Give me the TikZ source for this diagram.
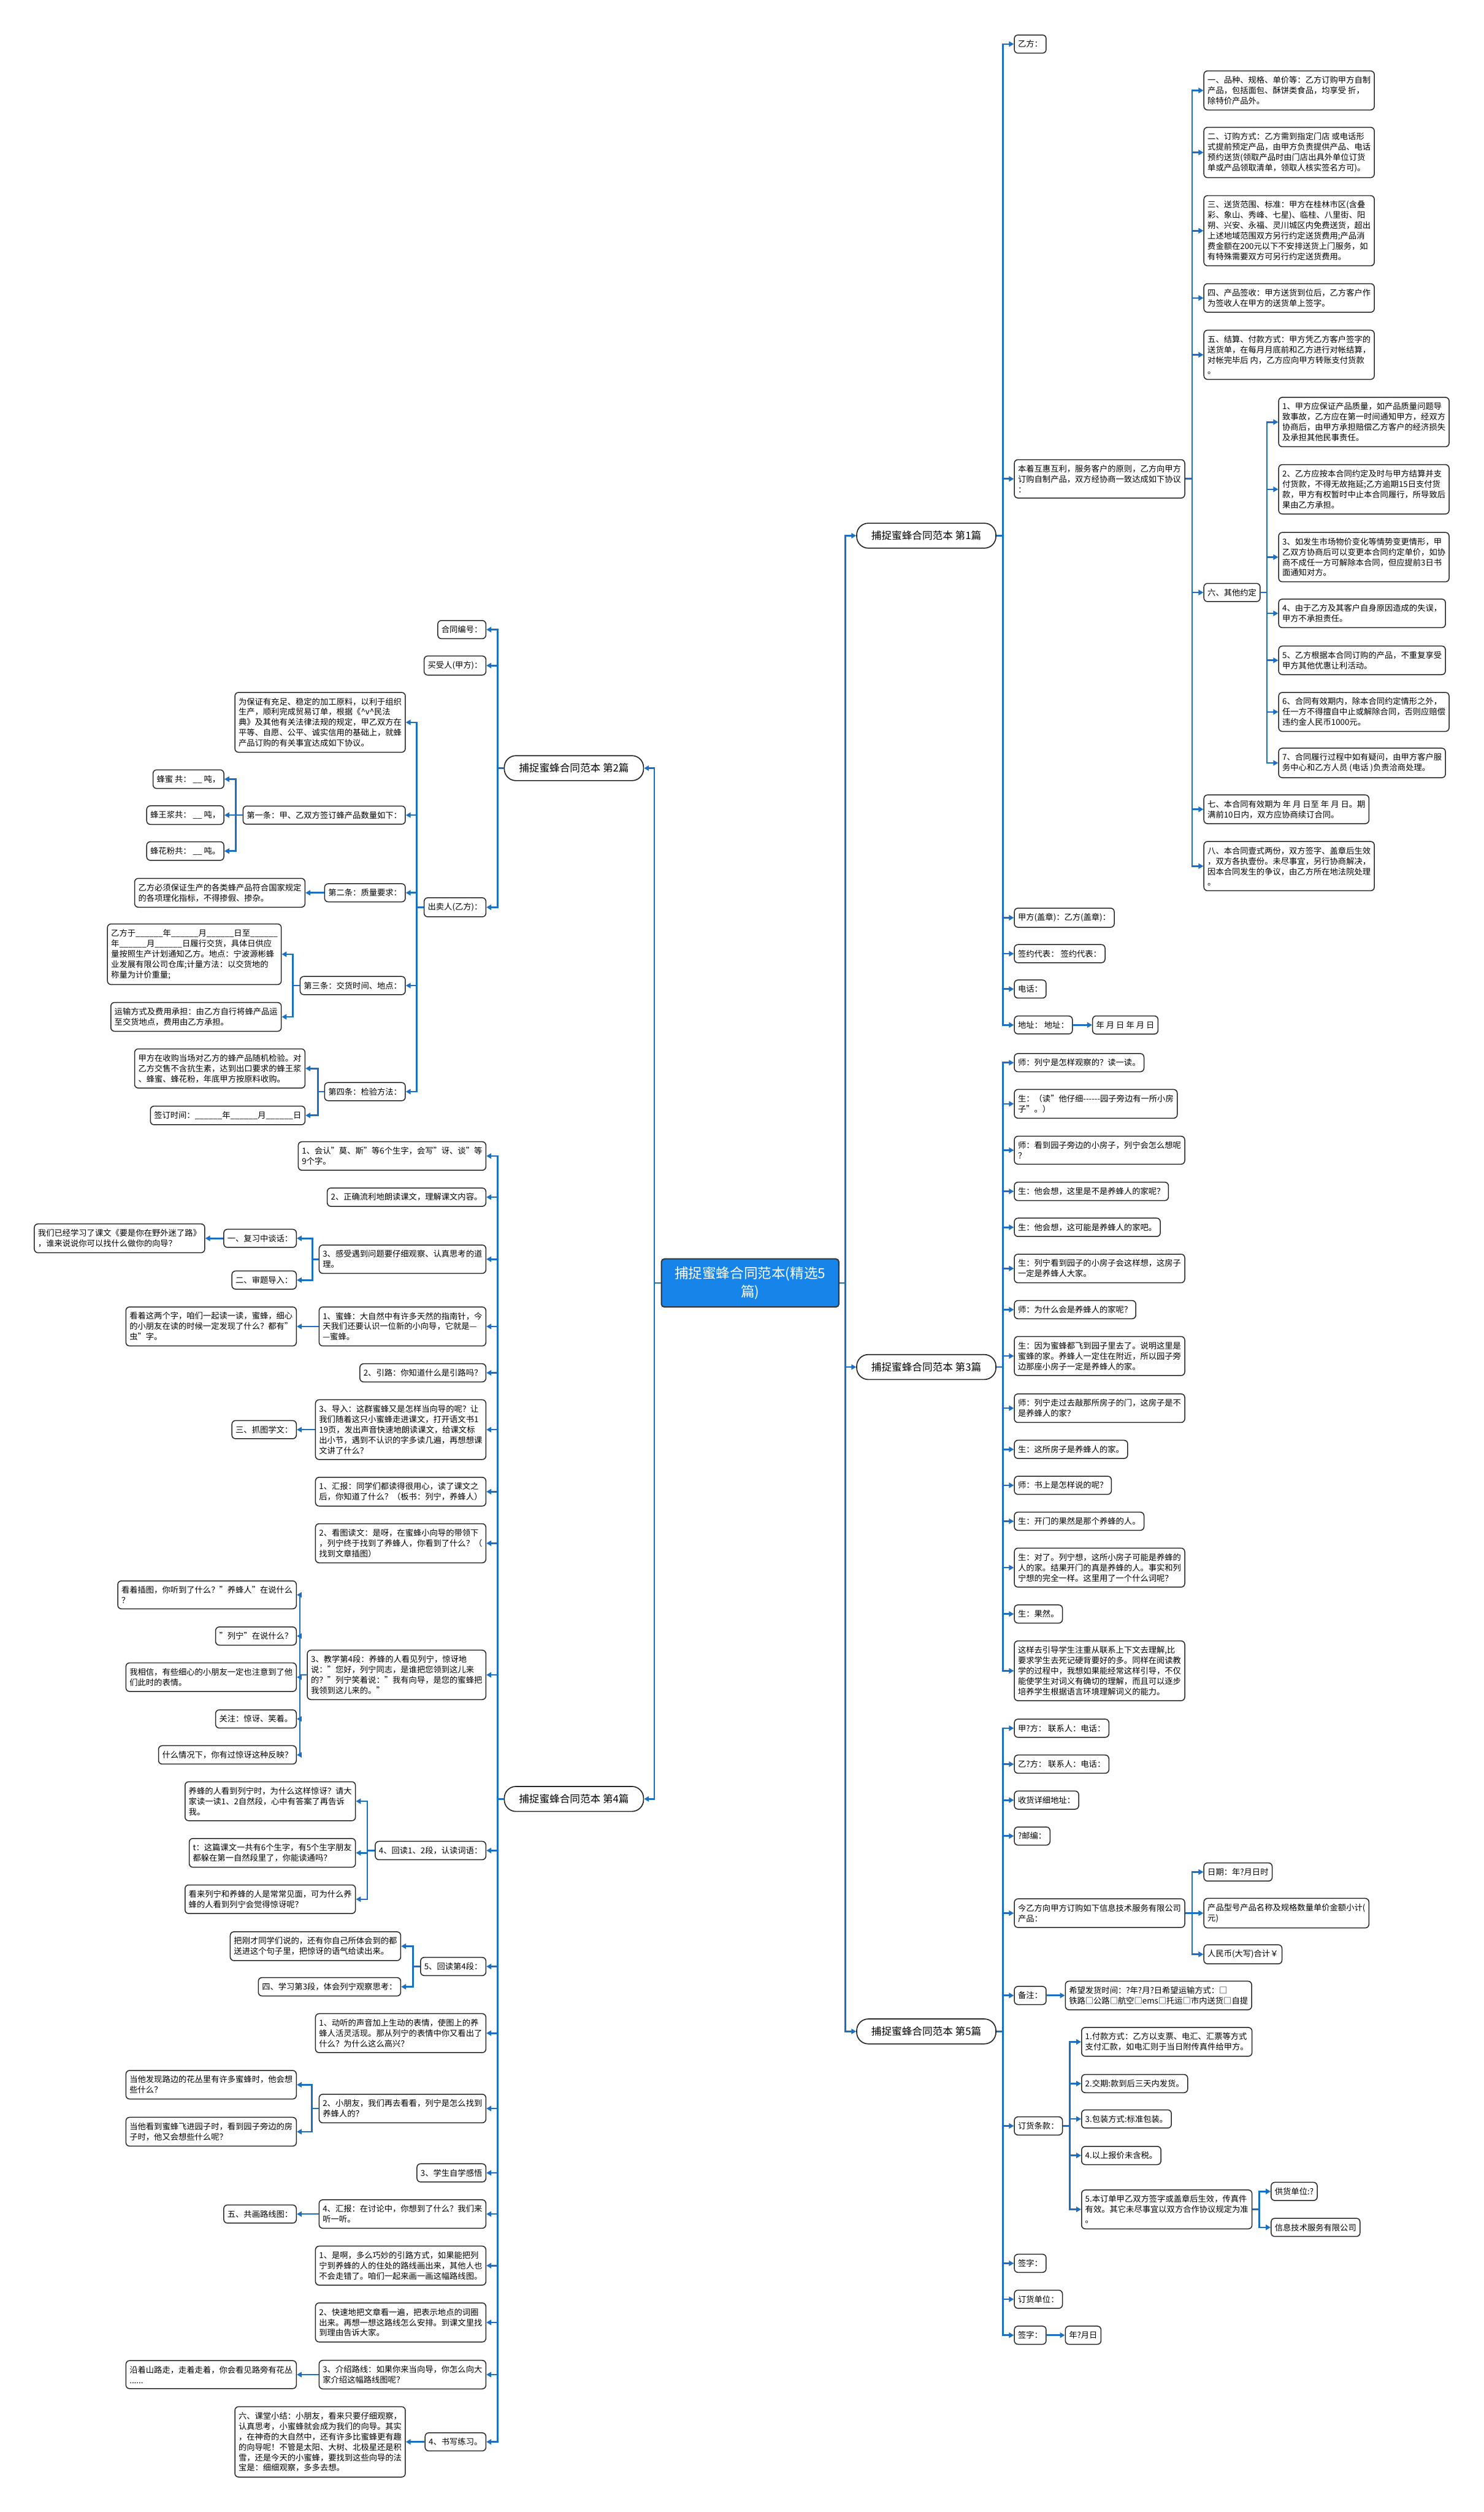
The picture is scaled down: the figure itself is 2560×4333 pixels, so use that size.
\documentclass[tikz,border=0pt]{standalone}
\usepackage{fontspec}
\setmainfont{Noto Sans CJK SC}
\usetikzlibrary{arrows.meta}
\definecolor{linkblue}{RGB}{28,112,196}
\definecolor{rootblue}{RGB}{22,132,232}
\newcommand{\tiankong}{\_\_\_\_\_\_}
\begin{document}
\begin{tikzpicture}[x=0.01cm, y=-0.01cm, >={Triangle[length=2.4pt,width=2.6pt]},
  every node/.style={font=\fontsize{4.0}{5.1}\selectfont},
  box/.style={draw=black!85, line width=0.45pt, rounded corners=1.8pt, fill=white, align=left, inner xsep=1.8pt, inner ysep=2.6pt},
  pian/.style={draw=black!85, line width=0.5pt, rounded corners=0.2cm, fill=white, minimum width=2.4cm, minimum height=0.43cm, inner sep=0pt, font=\fontsize{5}{6}\selectfont},
  zhuti/.style={draw=black!80, line width=0.6pt, rounded corners=1.5pt, fill=rootblue, text=white, align=center, minimum width=3.06cm, minimum height=0.83cm, font=\fontsize{6.8}{9}\selectfont},
  link/.style={->, draw=linkblue, line width=0.8pt}]
  \fill[white] (0,0) rectangle (2560,4333);
  \useasboundingbox (0,0) rectangle (2560,4333);

  % Centre
  \node[zhuti] (root) at (1294,2213) {捕捉蜜蜂合同范本(精选5\\篇)};

  % Piece 1
  \node[pian, anchor=west] (r1) at (1477,924) {捕捉蜜蜂合同范本 第1篇};
  \node[box, anchor=west] (r1a) at (1749,76) {乙方：};
  \node[box, anchor=west] (r1b) at (1749,826) {本着互惠互利，服务客户的原则，乙方向甲方\\订购自制产品，双方经协商一致达成如下协议\\：};
  \node[box, anchor=west] (r1b1) at (2076,156) {一、品种、规格、单价等：乙方订购甲方自制\\产品，包括面包、酥饼类食品，均享受 折，\\除特价产品外。};
  \node[box, anchor=west] (r1b2) at (2076,263) {二、订购方式：乙方需到指定门店 或电话形\\式提前预定产品，由甲方负责提供产品、电话\\预约送货(领取产品时由门店出具外单位订货\\单或产品领取清单，领取人核实签名方可)。};
  \node[box, anchor=west] (r1b3) at (2076,398) {三、送货范围、标准：甲方在桂林市区(含叠\\彩、象山、秀峰、七星)、临桂、八里街、阳\\朔、兴安、永福、灵川城区内免费送货，超出\\上述地域范围双方另行约定送货费用;产品消\\费金额在200元以下不安排送货上门服务，如\\有特殊需要双方可另行约定送货费用。};
  \node[box, anchor=west] (r1b4) at (2076,514) {四、产品签收：甲方送货到位后，乙方客户作\\为签收人在甲方的送货单上签字。};
  \node[box, anchor=west] (r1b5) at (2076,612) {五、结算、付款方式：甲方凭乙方客户签字的\\送货单，在每月月底前和乙方进行对帐结算，\\对帐完毕后 内，乙方应向甲方转账支付货款\\。};
  \node[box, anchor=west] (r1b6) at (2076,1022) {六、其他约定};
  \node[box, anchor=west] (r1b6a) at (2205,728) {1、甲方应保证产品质量，如产品质量问题导\\致事故，乙方应在第一时间通知甲方，经双方\\协商后，由甲方承担赔偿乙方客户的经济损失\\及承担其他民事责任。};
  \node[box, anchor=west] (r1b6b) at (2205,844) {2、乙方应按本合同约定及时与甲方结算并支\\付货款，不得无故拖延;乙方逾期15日支付货\\款，甲方有权暂时中止本合同履行，所导致后\\果由乙方承担。};
  \node[box, anchor=west] (r1b6c) at (2205,961) {3、如发生市场物价变化等情势变更情形，甲\\乙双方协商后可以变更本合同约定单价，如协\\商不成任一方可解除本合同，但应提前3日书\\面通知对方。};
  \node[box, anchor=west] (r1b6d) at (2205,1058) {4、由于乙方及其客户自身原因造成的失误，\\甲方不承担责任。};
  \node[box, anchor=west] (r1b6e) at (2205,1139) {5、乙方根据本合同订购的产品，不重复享受\\甲方其他优惠让利活动。};
  \node[box, anchor=west] (r1b6f) at (2205,1228) {6、合同有效期内，除本合同约定情形之外，\\任一方不得擅自中止或解除合同，否则应赔偿\\违约金人民币1000元。};
  \node[box, anchor=west] (r1b6g) at (2205,1316) {7、合同履行过程中如有疑问，由甲方客户服\\务中心和乙方人员 (电话 )负责洽商处理。};
  \node[box, anchor=west] (r1b7) at (2076,1396) {七、本合同有效期为 年 月 日至 年 月 日。期\\满前10日内，双方应协商续订合同。};
  \node[box, anchor=west] (r1b8) at (2076,1494) {八、本合同壹式两份，双方签字、盖章后生效\\，双方各执壹份。未尽事宜，另行协商解决，\\因本合同发生的争议，由乙方所在地法院处理\\。};
  \node[box, anchor=west] (r1c) at (1749,1583) {甲方(盖章)：乙方(盖章)：};
  \node[box, anchor=west] (r1d) at (1749,1645) {签约代表： 签约代表：};
  \node[box, anchor=west] (r1e) at (1749,1706) {电话：};
  \node[box, anchor=west] (r1f) at (1749,1768) {地址： 地址：};
  \node[box, anchor=west] (r1g) at (1884,1768) {年 月 日 年 月 日};

  \draw[link] (root.east) -- ++(10,0) |- (r1.west);
  \draw[link] (r1.east) -- ++(11,0) |- (r1a.west);
  \draw[link] (r1.east) -- ++(11,0) |- (r1b.west);
  \draw[link] (r1.east) -- ++(11,0) |- (r1c.west);
  \draw[link] (r1.east) -- ++(11,0) |- (r1d.west);
  \draw[link] (r1.east) -- ++(11,0) |- (r1e.west);
  \draw[link] (r1.east) -- ++(11,0) |- (r1f.west);
  \draw[link] (r1f.east) -- (r1g.west);
  \draw[link] (r1b.east) -- ++(12,0) |- (r1b1.west);
  \draw[link] (r1b.east) -- ++(12,0) |- (r1b2.west);
  \draw[link] (r1b.east) -- ++(12,0) |- (r1b3.west);
  \draw[link] (r1b.east) -- ++(12,0) |- (r1b4.west);
  \draw[link] (r1b.east) -- ++(12,0) |- (r1b5.west);
  \draw[link] (r1b.east) -- ++(12,0) |- (r1b6.west);
  \draw[link] (r1b.east) -- ++(12,0) |- (r1b7.west);
  \draw[link] (r1b.east) -- ++(12,0) |- (r1b8.west);
  \draw[link] (r1b6.east) -- ++(11,0) |- (r1b6a.west);
  \draw[link] (r1b6.east) -- ++(11,0) |- (r1b6b.west);
  \draw[link] (r1b6.east) -- ++(11,0) |- (r1b6c.west);
  \draw[link] (r1b6.east) -- ++(11,0) |- (r1b6d.west);
  \draw[link] (r1b6.east) -- ++(11,0) |- (r1b6e.west);
  \draw[link] (r1b6.east) -- ++(11,0) |- (r1b6f.west);
  \draw[link] (r1b6.east) -- ++(11,0) |- (r1b6g.west);

  % Piece 3
  \node[pian, anchor=west] (r3) at (1477,2358) {捕捉蜜蜂合同范本 第3篇};
  \node[box, anchor=west] (r3a) at (1749,1833) {师：列宁是怎样观察的？读一读。};
  \node[box, anchor=west] (r3b) at (1749,1904) {生：（读"他仔细{-}{-}{-}{-}{-}{-}园子旁边有一所小房\\子"。）};
  \node[box, anchor=west] (r3c) at (1749,1984) {师：看到园子旁边的小房子，列宁会怎么想呢\\？};
  \node[box, anchor=west] (r3d) at (1749,2055) {生：他会想，这里是不是养蜂人的家呢？};
  \node[box, anchor=west] (r3e) at (1749,2117) {生：他会想，这可能是养蜂人的家吧。};
  \node[box, anchor=west] (r3f) at (1749,2188) {生：列宁看到园子的小房子会这样想，这房子\\一定是养蜂人大家。};
  \node[box, anchor=west] (r3g) at (1749,2259) {师：为什么会是养蜂人的家呢？};
  \node[box, anchor=west] (r3h) at (1749,2339) {生：因为蜜蜂都飞到园子里去了。说明这里是\\蜜蜂的家。养蜂人一定住在附近，所以园子旁\\边那座小房子一定是养蜂人的家。};
  \node[box, anchor=west] (r3i) at (1749,2429) {师：列宁走过去敲那所房子的门，这房子是不\\是养蜂人的家？};
  \node[box, anchor=west] (r3j) at (1749,2500) {生：这所房子是养蜂人的家。};
  \node[box, anchor=west] (r3k) at (1749,2562) {师：书上是怎样说的呢？};
  \node[box, anchor=west] (r3l) at (1749,2624) {生：开门的果然是那个养蜂的人。};
  \node[box, anchor=west] (r3m) at (1749,2704) {生：对了。列宁想，这所小房子可能是养蜂的\\人的家。结果开门的真是养蜂的人。事实和列\\宁想的完全一样。这里用了一个什么词呢？};
  \node[box, anchor=west] (r3n) at (1749,2784) {生：果然。};
  \node[box, anchor=west] (r3o) at (1749,2882) {这样去引导学生注重从联系上下文去理解,比\\要求学生去死记硬背要好的多。同样在阅读教\\学的过程中，我想如果能经常这样引导，不仅\\能使学生对词义有确切的理解，而且可以逐步\\培养学生根据语言环境理解词义的能力。};

  \draw[link] (root.east) -- ++(10,0) |- (r3.west);
  \draw[link] (r3.east) -- ++(11,0) |- (r3a.west);
  \draw[link] (r3.east) -- ++(11,0) |- (r3b.west);
  \draw[link] (r3.east) -- ++(11,0) |- (r3c.west);
  \draw[link] (r3.east) -- ++(11,0) |- (r3d.west);
  \draw[link] (r3.east) -- ++(11,0) |- (r3e.west);
  \draw[link] (r3.east) -- ++(11,0) |- (r3f.west);
  \draw[link] (r3.east) -- ++(11,0) |- (r3g.west);
  \draw[link] (r3.east) -- ++(11,0) |- (r3h.west);
  \draw[link] (r3.east) -- ++(11,0) |- (r3i.west);
  \draw[link] (r3.east) -- ++(11,0) |- (r3j.west);
  \draw[link] (r3.east) -- ++(11,0) |- (r3k.west);
  \draw[link] (r3.east) -- ++(11,0) |- (r3l.west);
  \draw[link] (r3.east) -- ++(11,0) |- (r3m.west);
  \draw[link] (r3.east) -- ++(11,0) |- (r3n.west);
  \draw[link] (r3.east) -- ++(11,0) |- (r3o.west);

  % Piece 5
  \node[pian, anchor=west] (r5) at (1477,3504) {捕捉蜜蜂合同范本 第5篇};
  \node[box, anchor=west] (r5a) at (1749,2981) {甲?方： 联系人：电话：};
  \node[box, anchor=west] (r5b) at (1749,3043) {乙?方： 联系人：电话：};
  \node[box, anchor=west] (r5c) at (1749,3105) {收货详细地址：};
  \node[box, anchor=west] (r5d) at (1749,3167) {?邮编：};
  \node[box, anchor=west] (r5e) at (1749,3300) {今乙方向甲方订购如下信息技术服务有限公司\\产品：};
  \node[box, anchor=west] (r5e1) at (2076,3229) {日期：年?月日时};
  \node[box, anchor=west] (r5e2) at (2076,3300) {产品型号产品名称及规格数量单价金额小计(\\元)};
  \node[box, anchor=west] (r5e3) at (2076,3371) {人民币(大写)合计￥};
  \node[box, anchor=west] (r5f) at (1749,3442) {备注：};
  \node[box, anchor=west] (r5f1) at (1837,3442) {希望发货时间：?年?月?日希望运输方式：□\\铁路□公路□航空□ems□托运□市内送货□自提};
  \node[box, anchor=west] (r5g) at (1749,3667) {订货条款：};
  \node[box, anchor=west] (r5g1) at (1865,3522) {1.付款方式：乙方以支票、电汇、汇票等方式\\支付汇款，如电汇则于当日附传真件给甲方。};
  \node[box, anchor=west] (r5g2) at (1865,3594) {2.交期:款到后三天内发货。};
  \node[box, anchor=west] (r5g3) at (1865,3655) {3.包装方式:标准包装。};
  \node[box, anchor=west] (r5g4) at (1865,3718) {4.以上报价未含税。};
  \node[box, anchor=west] (r5g5) at (1865,3811) {5.本订单甲乙双方签字或盖章后生效，传真件\\有效。其它未尽事宜以双方合作协议规定为准\\。};
  \node[box, anchor=west] (r5g5a) at (2192,3780) {供货单位:?};
  \node[box, anchor=west] (r5g5b) at (2192,3842) {信息技术服务有限公司};
  \node[box, anchor=west] (r5h) at (1749,3904) {签字：};
  \node[box, anchor=west] (r5i) at (1749,3966) {订货单位：};
  \node[box, anchor=west] (r5j) at (1749,4028) {签字：};
  \node[box, anchor=west] (r5j1) at (1837,4028) {年?月日};

  \draw[link] (root.east) -- ++(10,0) |- (r5.west);
  \draw[link] (r5.east) -- ++(11,0) |- (r5a.west);
  \draw[link] (r5.east) -- ++(11,0) |- (r5b.west);
  \draw[link] (r5.east) -- ++(11,0) |- (r5c.west);
  \draw[link] (r5.east) -- ++(11,0) |- (r5d.west);
  \draw[link] (r5.east) -- ++(11,0) |- (r5e.west);
  \draw[link] (r5.east) -- ++(11,0) |- (r5f.west);
  \draw[link] (r5.east) -- ++(11,0) |- (r5g.west);
  \draw[link] (r5.east) -- ++(11,0) |- (r5h.west);
  \draw[link] (r5.east) -- ++(11,0) |- (r5i.west);
  \draw[link] (r5.east) -- ++(11,0) |- (r5j.west);
  \draw[link] (r5e.east) -- ++(12,0) |- (r5e1.west);
  \draw[link] (r5e.east) -- ++(12,0) |- (r5e2.west);
  \draw[link] (r5e.east) -- ++(12,0) |- (r5e3.west);
  \draw[link] (r5f.east) -- (r5f1.west);
  \draw[link] (r5g.east) -- ++(12,0) |- (r5g1.west);
  \draw[link] (r5g.east) -- ++(12,0) |- (r5g2.west);
  \draw[link] (r5g.east) -- ++(12,0) |- (r5g3.west);
  \draw[link] (r5g.east) -- ++(12,0) |- (r5g4.west);
  \draw[link] (r5g.east) -- ++(12,0) |- (r5g5.west);
  \draw[link] (r5g5.east) -- ++(12,0) |- (r5g5a.west);
  \draw[link] (r5g5.east) -- ++(12,0) |- (r5g5b.west);
  \draw[link] (r5j.east) -- (r5j1.west);

  % Piece 2
  \node[pian, anchor=east] (l2) at (1111,1325) {捕捉蜜蜂合同范本 第2篇};
  \node[box, anchor=east] (l2a) at (839,1086) {合同编号：};
  \node[box, anchor=east] (l2b) at (839,1148) {买受人(甲方)：};
  \node[box, anchor=east] (l2c) at (839,1565) {出卖人(乙方)：};
  \node[box, anchor=east] (l2c1) at (700,1246) {为保证有充足、稳定的加工原料，以利于组织\\生产，顺利完成贸易订单，根据《\textasciicircum v\textasciicircum 民法\\典》及其他有关法律法规的规定，甲乙双方在\\平等、自愿、公平、诚实信用的基础上，就蜂\\产品订购的有关事宜达成如下协议。};
  \node[box, anchor=east] (l2c2) at (700,1406) {第一条：甲、乙双方签订蜂产品数量如下：};
  \node[box, anchor=east] (l2c2a) at (387,1344) {蜂蜜 共： \_\_ 吨，};
  \node[box, anchor=east] (l2c2b) at (387,1406) {蜂王浆共： \_\_ 吨，};
  \node[box, anchor=east] (l2c2c) at (387,1468) {蜂花粉共： \_\_ 吨。};
  \node[box, anchor=east] (l2c3) at (700,1540) {第二条：质量要求：};
  \node[box, anchor=east] (l2c3a) at (527,1540) {乙方必须保证生产的各类蜂产品符合国家规定\\的各项理化指标，不得掺假、掺杂。};
  \node[box, anchor=east] (l2c4) at (700,1700) {第三条：交货时间、地点：};
  \node[box, anchor=east] (l2c4a) at (486,1646) {乙方于\tiankong 年\tiankong 月\tiankong 日至\tiankong\\年\tiankong 月\tiankong 日履行交货，具体日供应\\量按照生产计划通知乙方。地点：宁波源彬蜂\\业发展有限公司仓库;计量方法：以交货地的\\称量为计价重量;};
  \node[box, anchor=east] (l2c4b) at (486,1754) {运输方式及费用承担：由乙方自行将蜂产品运\\至交货地点，费用由乙方承担。};
  \node[box, anchor=east] (l2c5) at (700,1883) {第四条：检验方法：};
  \node[box, anchor=east] (l2c5a) at (527,1843) {甲方在收购当场对乙方的蜂产品随机检验。对\\乙方交售不含抗生素，达到出口要求的蜂王浆\\、蜂蜜、蜂花粉，年底甲方按原料收购。};
  \node[box, anchor=east] (l2c5b) at (527,1924) {签订时间：\tiankong 年\tiankong 月\tiankong 日};

  \draw[link] (root.west) -- ++(-11,0) |- (l2.east);
  \draw[link] (l2.west) -- ++(-11,0) |- (l2a.east);
  \draw[link] (l2.west) -- ++(-11,0) |- (l2b.east);
  \draw[link] (l2.west) -- ++(-11,0) |- (l2c.east);
  \draw[link] (l2c.west) -- ++(-12,0) |- (l2c1.east);
  \draw[link] (l2c.west) -- ++(-12,0) |- (l2c2.east);
  \draw[link] (l2c.west) -- ++(-12,0) |- (l2c3.east);
  \draw[link] (l2c.west) -- ++(-12,0) |- (l2c4.east);
  \draw[link] (l2c.west) -- ++(-12,0) |- (l2c5.east);
  \draw[link] (l2c2.west) -- ++(-12,0) |- (l2c2a.east);
  \draw[link] (l2c2.west) -- ++(-12,0) |- (l2c2b.east);
  \draw[link] (l2c2.west) -- ++(-12,0) |- (l2c2c.east);
  \draw[link] (l2c3.west) -- (l2c3a.east);
  \draw[link] (l2c4.west) -- ++(-12,0) |- (l2c4a.east);
  \draw[link] (l2c4.west) -- ++(-12,0) |- (l2c4b.east);
  \draw[link] (l2c5.west) -- ++(-11,0) |- (l2c5a.east);
  \draw[link] (l2c5.west) -- ++(-11,0) |- (l2c5b.east);

  % Piece 4
  \node[pian, anchor=east] (l4) at (1111,3103) {捕捉蜜蜂合同范本 第4篇};
  \node[box, anchor=east] (l4a) at (839,1994) {1、会认"莫、斯"等6个生字，会写"讶、谈"等\\9个字。};
  \node[box, anchor=east] (l4b) at (839,2065) {2、正确流利地朗读课文，理解课文内容。};
  \node[box, anchor=east] (l4c) at (839,2172) {3、感受遇到问题要仔细观察、认真思考的道\\理。};
  \node[box, anchor=east] (l4c1) at (512,2136) {一、复习中谈话：};
  \node[box, anchor=east] (l4c1a) at (354,2136) {我们已经学习了课文《要是你在野外迷了路》\\，谁来说说你可以找什么做你的向导？};
  \node[box, anchor=east] (l4c2) at (512,2208) {二、审题导入：};
  \node[box, anchor=east] (l4d) at (839,2288) {1、蜜蜂：大自然中有许多天然的指南针，今\\天我们还要认识一位新的小向导，它就是—\\—蜜蜂。};
  \node[box, anchor=east] (l4d1) at (512,2288) {看着这两个字，咱们一起读一读，蜜蜂，细心\\的小朋友在读的时候一定发现了什么？都有"\\虫"字。};
  \node[box, anchor=east] (l4e) at (839,2368) {2、引路：你知道什么是引路吗？};
  \node[box, anchor=east] (l4f) at (839,2466) {3、导入：这群蜜蜂又是怎样当向导的呢？让\\我们随着这只小蜜蜂走进课文，打开语文书1\\19页，发出声音快速地朗读课文，给课文标\\出小节，遇到不认识的字多读几遍，再想想课\\文讲了什么？};
  \node[box, anchor=east] (l4f1) at (512,2466) {三、抓图学文：};
  \node[box, anchor=east] (l4g) at (839,2573) {1、汇报：同学们都读得很用心，读了课文之\\后，你知道了什么？（板书：列宁，养蜂人）};
  \node[box, anchor=east] (l4h) at (839,2662) {2、看图读文：是呀，在蜜蜂小向导的带领下\\，列宁终于找到了养蜂人，你看到了什么？（\\找到文章插图）};
  \node[box, anchor=east] (l4i) at (839,2889) {3、教学第4段：养蜂的人看见列宁，惊讶地\\说："您好，列宁同志，是谁把您领到这儿来\\的？"列宁笑着说："我有向导，是您的蜜蜂把\\我领到这儿来的。"};
  \node[box, anchor=east] (l4i1) at (512,2751) {看着插图，你听到了什么？"养蜂人"在说什么\\？};
  \node[box, anchor=east] (l4i2) at (512,2822) {"列宁"在说什么？};
  \node[box, anchor=east] (l4i3) at (512,2893) {我相信，有些细心的小朋友一定也注意到了他\\们此时的表情。};
  \node[box, anchor=east] (l4i4) at (512,2965) {关注：惊讶、笑着。};
  \node[box, anchor=east] (l4i5) at (512,3027) {什么情况下，你有过惊讶这种反映？};
  \node[box, anchor=east] (l4j) at (839,3192) {4、回读1、2段，认读词语：};
  \node[box, anchor=east] (l4j1) at (614,3107) {养蜂的人看到列宁时，为什么这样惊讶？请大\\家读一读1、2自然段，心中有答案了再告诉\\我。};
  \node[box, anchor=east] (l4j2) at (614,3196) {t：这篇课文一共有6个生字，有5个生字朋友\\都躲在第一自然段里了，你能读通吗？};
  \node[box, anchor=east] (l4j3) at (614,3276) {看来列宁和养蜂的人是常常见面，可为什么养\\蜂的人看到列宁会觉得惊讶呢？};
  \node[box, anchor=east] (l4k) at (839,3392) {5、回读第4段：};
  \node[box, anchor=east] (l4k1) at (692,3357) {把刚才同学们说的，还有你自己所体会到的都\\送进这个句子里，把惊讶的语气给读出来。};
  \node[box, anchor=east] (l4k2) at (692,3427) {四、学习第3段，体会列宁观察思考：};
  \node[box, anchor=east] (l4l) at (839,3507) {1、动听的声音加上生动的表情，使图上的养\\蜂人活灵活现。那从列宁的表情中你又看出了\\什么？为什么这么高兴？};
  \node[box, anchor=east] (l4m) at (839,3637) {2、小朋友，我们再去看看，列宁是怎么找到\\养蜂人的？};
  \node[box, anchor=east] (l4m1) at (512,3596) {当他发现路边的花丛里有许多蜜蜂时，他会想\\些什么？};
  \node[box, anchor=east] (l4m2) at (512,3677) {当他看到蜜蜂飞进园子时，看到园子旁边的房\\子时，他又会想些什么呢？};
  \node[box, anchor=east] (l4n) at (839,3748) {3、学生自学感悟};
  \node[box, anchor=east] (l4o) at (839,3819) {4、汇报：在讨论中，你想到了什么？我们来\\听一听。};
  \node[box, anchor=east] (l4o1) at (512,3819) {五、共画路线图：};
  \node[box, anchor=east] (l4p) at (839,3908) {1、是啊，多么巧妙的引路方式，如果能把列\\宁到养蜂的人的住处的路线画出来，其他人也\\不会走错了。咱们一起来画一画这幅路线图。};
  \node[box, anchor=east] (l4q) at (839,4006) {2、快速地把文章看一遍，把表示地点的词圈\\出来。再想一想这路线怎么安排。到课文里找\\到理由告诉大家。};
  \node[box, anchor=east] (l4r) at (839,4096) {3、介绍路线：如果你来当向导，你怎么向大\\家介绍这幅路线图呢？};
  \node[box, anchor=east] (l4r1) at (512,4096) {沿着山路走，走着走着，你会看见路旁有花丛\\......};
  \node[box, anchor=east] (l4s) at (839,4212) {4、书写练习。};
  \node[box, anchor=east] (l4s1) at (700,4212) {六、课堂小结：小朋友，看来只要仔细观察，\\认真思考，小蜜蜂就会成为我们的向导。其实\\，在神奇的大自然中，还有许多比蜜蜂更有趣\\的向导呢！不管是太阳、大树、北极星还是积\\雪，还是今天的小蜜蜂，要找到这些向导的法\\宝是：细细观察，多多去想。};

  \draw[link] (root.west) -- ++(-11,0) |- (l4.east);
  \draw[link] (l4.west) -- ++(-11,0) |- (l4a.east);
  \draw[link] (l4.west) -- ++(-11,0) |- (l4b.east);
  \draw[link] (l4.west) -- ++(-11,0) |- (l4c.east);
  \draw[link] (l4.west) -- ++(-11,0) |- (l4d.east);
  \draw[link] (l4.west) -- ++(-11,0) |- (l4e.east);
  \draw[link] (l4.west) -- ++(-11,0) |- (l4f.east);
  \draw[link] (l4.west) -- ++(-11,0) |- (l4g.east);
  \draw[link] (l4.west) -- ++(-11,0) |- (l4h.east);
  \draw[link] (l4.west) -- ++(-11,0) |- (l4i.east);
  \draw[link] (l4.west) -- ++(-11,0) |- (l4j.east);
  \draw[link] (l4.west) -- ++(-11,0) |- (l4k.east);
  \draw[link] (l4.west) -- ++(-11,0) |- (l4l.east);
  \draw[link] (l4.west) -- ++(-11,0) |- (l4m.east);
  \draw[link] (l4.west) -- ++(-11,0) |- (l4n.east);
  \draw[link] (l4.west) -- ++(-11,0) |- (l4o.east);
  \draw[link] (l4.west) -- ++(-11,0) |- (l4p.east);
  \draw[link] (l4.west) -- ++(-11,0) |- (l4q.east);
  \draw[link] (l4.west) -- ++(-11,0) |- (l4r.east);
  \draw[link] (l4.west) -- ++(-11,0) |- (l4s.east);
  \draw[link] (l4c.west) -- ++(-11,0) |- (l4c1.east);
  \draw[link] (l4c.west) -- ++(-11,0) |- (l4c2.east);
  \draw[link] (l4c1.west) -- (l4c1a.east);
  \draw[link] (l4d.west) -- (l4d1.east);
  \draw[link] (l4f.west) -- (l4f1.east);
  \draw[link] (l4i.west) -- ++(-12,0) |- (l4i1.east);
  \draw[link] (l4i.west) -- ++(-12,0) |- (l4i2.east);
  \draw[link] (l4i.west) -- ++(-12,0) |- (l4i3.east);
  \draw[link] (l4i.west) -- ++(-12,0) |- (l4i4.east);
  \draw[link] (l4i.west) -- ++(-12,0) |- (l4i5.east);
  \draw[link] (l4j.west) -- ++(-13,0) |- (l4j1.east);
  \draw[link] (l4j.west) -- ++(-13,0) |- (l4j2.east);
  \draw[link] (l4j.west) -- ++(-13,0) |- (l4j3.east);
  \draw[link] (l4k.west) -- ++(-12,0) |- (l4k1.east);
  \draw[link] (l4k.west) -- ++(-12,0) |- (l4k2.east);
  \draw[link] (l4m.west) -- ++(-12,0) |- (l4m1.east);
  \draw[link] (l4m.west) -- ++(-12,0) |- (l4m2.east);
  \draw[link] (l4o.west) -- (l4o1.east);
  \draw[link] (l4r.west) -- (l4r1.east);
  \draw[link] (l4s.west) -- (l4s1.east);
\end{tikzpicture}
\end{document}
